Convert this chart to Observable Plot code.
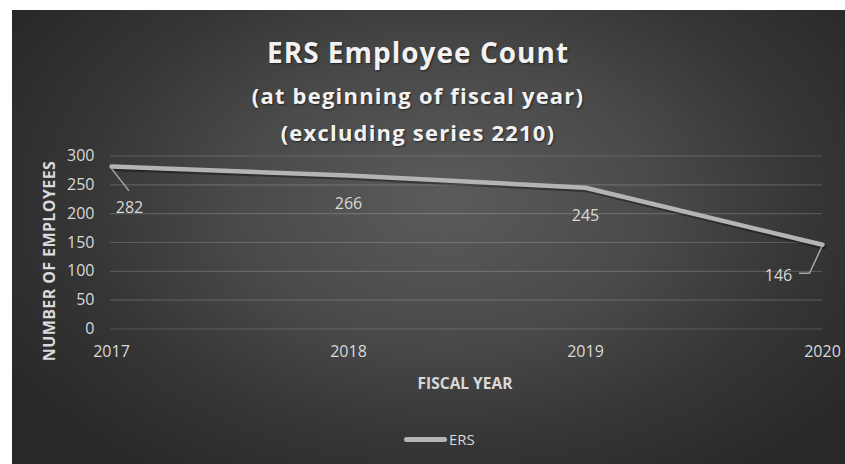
<!DOCTYPE html>
<html>
<head>
<meta charset="utf-8">
<script src="https://cdn.jsdelivr.net/npm/d3@7"></script>
<script src="https://cdn.jsdelivr.net/npm/@observablehq/plot@0.6"></script>
<style>
  html, body { margin: 0; padding: 0; background: #fff; }
  #wrap { position: relative; width: 845px; height: 464px; overflow: hidden; font-family: "Open Sans", sans-serif; }
  #bg { position: absolute; left: 12px; top: 10px; right: 0; bottom: 0;
        background: radial-gradient(ellipse 62% 75% at 52% 42%, #5b5b5b 0%, #4a4a4a 40%, #363636 70%, #282828 100%); }
  .t { position: absolute; left: 0; width: 836px; text-align: center; color: #f2f2f2; font-weight: 700;
       line-height: 1; white-space: nowrap; text-shadow: 1px 1px 2px rgba(0,0,0,0.55); }
  #title { top: 38px; font-size: 28px; letter-spacing: 1px; }
  #sub1 { top: 83.5px; font-size: 22px; letter-spacing: 1.2px; }
  #sub2 { top: 120.5px; font-size: 22px; letter-spacing: 1.2px; }
  #plot { position: absolute; left: 0; top: 140px; }
  #ytitle { position: absolute; left: -61px; top: 253px; width: 220px; line-height: 16px; text-align: center;
            font-size: 16px; font-weight: 700; letter-spacing: 0.4px; color: #d9d9d9; transform: rotate(-90deg); white-space: nowrap; }
  #xtitle { position: absolute; left: 365px; width: 200px; top: 376px; line-height: 1; text-align: center;
            font-size: 15.5px; font-weight: 700; color: #d9d9d9; white-space: nowrap; }
  #legend { position: absolute; left: 404px; top: 431px; height: 16px; display: flex; align-items: center; }
  #legend .sw { width: 43px; height: 5px; background: #b4b4b4; border-radius: 2.5px; }
  #legend .lb { font-size: 15px; color: #d9d9d9; margin-left: 2px; line-height: 15px; }
</style>
</head>
<body>
<div id="wrap">
  <div id="bg"></div>
  <div class="t" id="title">ERS Employee Count</div>
  <div class="t" id="sub1">(at beginning of fiscal year)</div>
  <div class="t" id="sub2">(excluding series 2210)</div>
  <div id="plot"></div>
  <div id="ytitle">NUMBER OF EMPLOYEES</div>
  <div id="xtitle">FISCAL YEAR</div>
  <div id="legend"><div class="sw"></div><div class="lb">ERS</div></div>
</div>
<script>
// ---- data ----
const years = ["2017", "2018", "2019", "2020"];
const counts = [282, 266, 245, 146];
const seriesName = "ERS";
const yTicks = [0, 50, 100, 150, 200, 250, 300];

const data = years.map((year, i) => ({year, count: counts[i], series: seriesName}));

// label placement (annotation layout, pixel offsets relative to each point)
const labelLayout = {
  "2017": {dx: 18, dy: 41, leader: [[0, 2], [18, 25]]},
  "2018": {dx: 0, dy: 28, leader: null},
  "2019": {dx: 0, dy: 28.5, leader: null},
  "2020": {dx: -44, dy: 31, leader: [[0, 2], [-12.5, 29], [-23, 29]]}
};

const lineColor = "#b4b4b4";
const textColor = "#d9d9d9";

const labelMarks = data.map(d => Plot.text([d], {
  x: "year", y: "count", text: d => String(d.count),
  dx: labelLayout[d.year].dx, dy: labelLayout[d.year].dy,
  fill: textColor, fontSize: 16, textAnchor: "middle", lineAnchor: "middle"
}));

function leaders(index, scales) {
  const g = d3.create("svg:g");
  for (const d of data) {
    const L = labelLayout[d.year].leader;
    if (!L) continue;
    const px = scales.x(d.year), py = scales.y(d.count);
    g.append("path")
      .attr("d", "M" + L.map(([a, b]) => (px + a) + "," + (py + b)).join("L"))
      .attr("fill", "none").attr("stroke", "#a6a6a6").attr("stroke-width", 1.5);
  }
  return g.node();
}

const chart = Plot.plot({
  width: 845,
  height: 260,
  marginLeft: 110,
  marginRight: 23,
  marginTop: 15.5,
  marginBottom: 71.5,
  style: {background: "transparent", color: textColor, fontFamily: "Open Sans, sans-serif", fontSize: "16px", overflow: "visible"},
  x: {type: "point", domain: years, padding: 0, label: null},
  y: {domain: [0, 300], label: null},
  marks: [
    Plot.gridY(yTicks, {stroke: "#ffffff", strokeOpacity: 0.17, strokeWidth: 1.2}),
    Plot.axisY(yTicks, {tickSize: 0, tickPadding: 16, fill: textColor, fontSize: 16, label: null}),
    Plot.axisX({tickSize: 0, tickPadding: 17, fill: textColor, fontSize: 16, label: null}),
    Plot.line(data, {x: "year", y: "count", stroke: "#000", strokeOpacity: 0.35, strokeWidth: 5, dx: 1.5, dy: 2}),
    Plot.line(data, {x: "year", y: "count", stroke: lineColor, strokeWidth: 4.5}),
    leaders,
    ...labelMarks
  ]
});
document.getElementById("plot").appendChild(chart);
</script>
</body>
</html>
